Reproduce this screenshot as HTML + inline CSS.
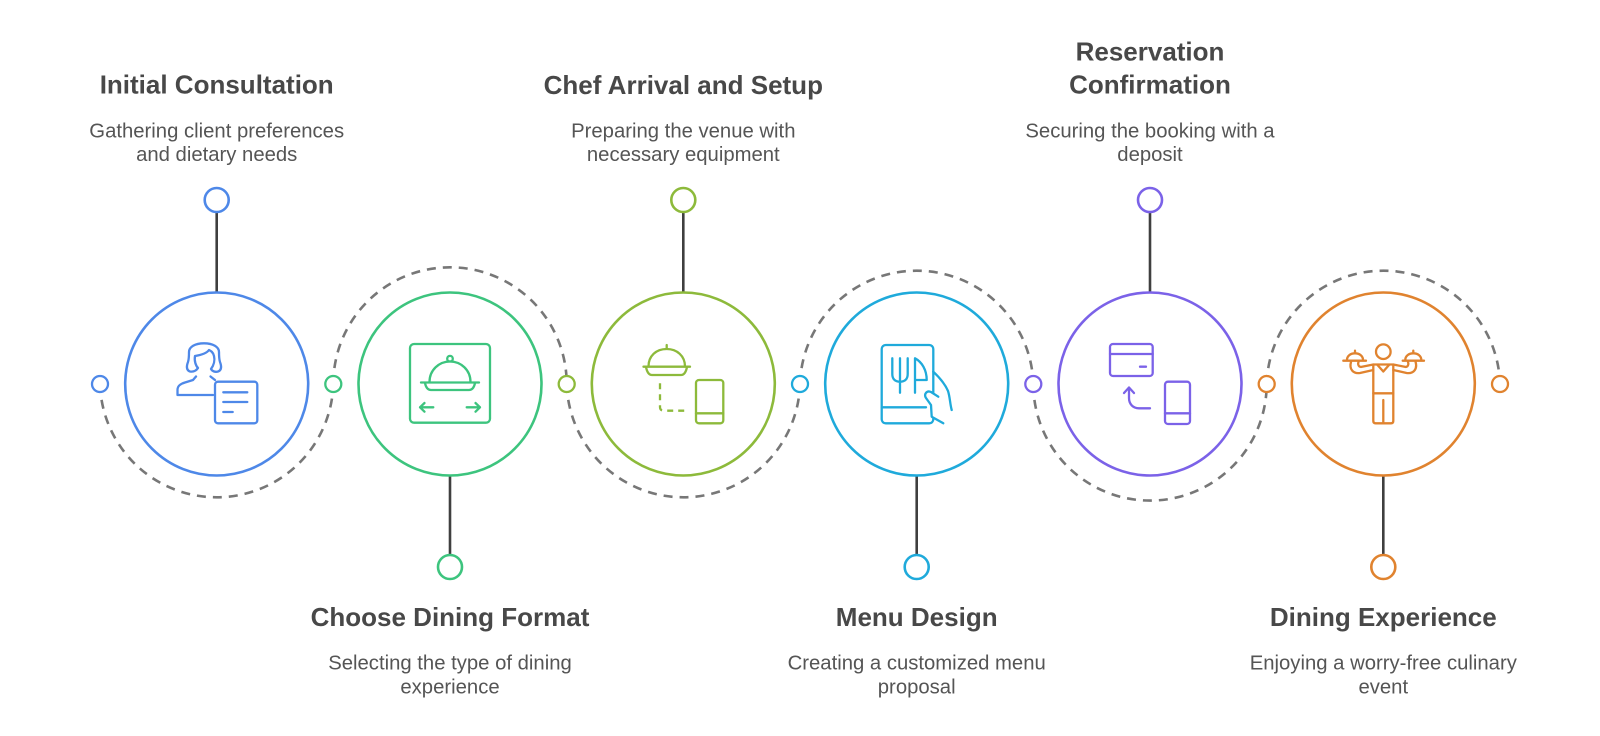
<!DOCTYPE html>
<html>
<head>
<meta charset="utf-8">
<style>
  html,body{margin:0;padding:0;background:#fff;}
  svg{display:block;}
  .t{font-family:"Liberation Sans",Arial,sans-serif;font-weight:bold;font-size:26px;fill:#484848;text-anchor:middle;}
  .d{font-family:"Liberation Sans",Arial,sans-serif;font-size:20.3px;fill:#555;text-anchor:middle;}
  .ic{fill:none;stroke-width:2.3;stroke-linecap:round;stroke-linejoin:round;}
  .dash{fill:none;stroke:#777;stroke-width:2.6;stroke-dasharray:9 7;}
  .conn{stroke:#3f3f3f;stroke-width:2.6;}
</style>
</head>
<body>
<svg width="1600" height="736" viewBox="0 0 1600 736" xmlns="http://www.w3.org/2000/svg">
  <!-- dashed arcs -->
  <path class="dash" d="M100,384 A116.7,116.7 0 0 0 333.3,384"/>
  <path class="dash" d="M333.3,384 A116.7,116.7 0 0 1 566.7,384"/>
  <path class="dash" d="M566.7,384 A116.7,116.7 0 0 0 800,384"/>
  <path class="dash" d="M800,384 A116.7,116.7 0 0 1 1033.3,384"/>
  <path class="dash" d="M1033.3,384 A116.7,116.7 0 0 0 1266.7,384"/>
  <path class="dash" d="M1266.7,384 A116.7,116.7 0 0 1 1500,384"/>

  <!-- connectors -->
  <line class="conn" x1="216.7" y1="212" x2="216.7" y2="292.5"/>
  <line class="conn" x1="450" y1="475.5" x2="450" y2="555"/>
  <line class="conn" x1="683.3" y1="212" x2="683.3" y2="292.5"/>
  <line class="conn" x1="916.7" y1="475.5" x2="916.7" y2="555"/>
  <line class="conn" x1="1150" y1="212" x2="1150" y2="292.5"/>
  <line class="conn" x1="1383.3" y1="475.5" x2="1383.3" y2="555"/>

  <!-- main circles -->
  <circle cx="216.7" cy="384" r="91.5" fill="#fff" stroke="#4E88E8" stroke-width="2.6"/>
  <circle cx="450" cy="384" r="91.5" fill="#fff" stroke="#3DC47E" stroke-width="2.6"/>
  <circle cx="683.3" cy="384" r="91.5" fill="#fff" stroke="#8DBA3B" stroke-width="2.6"/>
  <circle cx="916.7" cy="384" r="91.5" fill="#fff" stroke="#1FAADB" stroke-width="2.6"/>
  <circle cx="1150" cy="384" r="91.5" fill="#fff" stroke="#7B62E8" stroke-width="2.6"/>
  <circle cx="1383.3" cy="384" r="91.5" fill="#fff" stroke="#E0832F" stroke-width="2.6"/>

  <!-- side small circles -->
  <circle cx="100" cy="384" r="8" fill="#fff" stroke="#4E88E8" stroke-width="2.3"/>
  <circle cx="333.3" cy="384" r="8" fill="#fff" stroke="#3DC47E" stroke-width="2.3"/>
  <circle cx="566.7" cy="384" r="8" fill="#fff" stroke="#8DBA3B" stroke-width="2.3"/>
  <circle cx="800" cy="384" r="8" fill="#fff" stroke="#1FAADB" stroke-width="2.3"/>
  <circle cx="1033.3" cy="384" r="8" fill="#fff" stroke="#7B62E8" stroke-width="2.3"/>
  <circle cx="1266.7" cy="384" r="8" fill="#fff" stroke="#E0832F" stroke-width="2.3"/>
  <circle cx="1500" cy="384" r="8" fill="#fff" stroke="#E0832F" stroke-width="2.3"/>

  <!-- top/bottom small circles -->
  <circle cx="216.7" cy="200" r="12" fill="#fff" stroke="#4E88E8" stroke-width="2.6"/>
  <circle cx="450" cy="567" r="12" fill="#fff" stroke="#3DC47E" stroke-width="2.6"/>
  <circle cx="683.3" cy="200" r="12" fill="#fff" stroke="#8DBA3B" stroke-width="2.6"/>
  <circle cx="916.7" cy="567" r="12" fill="#fff" stroke="#1FAADB" stroke-width="2.6"/>
  <circle cx="1150" cy="200" r="12" fill="#fff" stroke="#7B62E8" stroke-width="2.6"/>
  <circle cx="1383.3" cy="567" r="12" fill="#fff" stroke="#E0832F" stroke-width="2.6"/>

  <!-- Icon 1: person with document -->
  <g class="ic" stroke="#4E88E8">
    <path d="M190,371.5 C186,370 186.5,366 188,362 C189,359 189,356 189,352 C189,347 195,343.3 204,343.3 C213,343.3 219,347 219,352 C219,356 219,359 220,362 C221.5,366 222,370 218,371.5 C215,372.5 212,371 211,369 C214,365 215,360 214,356 C213,352 211,351 209,350 C207,353 201,355 195,356 C194,361 196,366 198,368 C196,371 193,372 190,371.5 Z"/>
    <path d="M213,395 H177.5 V390 C177.5,386 180,384 185,382.5 L193,380 L196,376.5"/>
    <path d="M210.5,376.5 L215,380"/>
    <rect x="215" y="381.7" width="42.3" height="41.6" rx="3" fill="#fff"/>
    <path d="M223.3,392.3 H247.3 M223.3,402 H247.3 M223.3,412 H232.7"/>
  </g>

  <!-- Icon 2: cloche in frame with arrows -->
  <g class="ic" stroke="#3DC47E">
    <rect x="410" y="344" width="80" height="78.7" rx="4"/>
    <circle cx="450" cy="358.7" r="2.8"/>
    <path d="M429.5,382 C429.5,370 439,361.5 450,361.5 C461,361.5 470.5,370 470.5,382"/>
    <path d="M421,382.5 H479"/>
    <path d="M425,383 C426,388 428,390 431,390 H469 C472,390 474,388 475,383"/>
    <path d="M420,407.3 H433.3 M424.5,403 L420,407.3 L424.5,411.7"/>
    <path d="M466.7,407.3 H480 M475.5,403 L480,407.3 L475.5,411.7"/>
  </g>

  <!-- Icon 3: cloche, dashed path, phone -->
  <g class="ic" stroke="#8DBA3B">
    <path d="M666.7,345 V348.5"/>
    <path d="M648.5,366.5 C648.5,356 656,349 666.7,349 C677,349 685,356 685,366.5"/>
    <path d="M643.5,366.7 H690"/>
    <path d="M646,367 C647,372 649,375 652,375 H681 C684,375 686,372 687,367"/>
    <path d="M660,383.3 V407 Q660,410.7 664,410.7 H688.3" stroke-dasharray="6 5" stroke-linecap="butt"/>
    <rect x="696" y="380" width="27.3" height="43.3" rx="3"/>
    <path d="M696,413.3 H723.3"/>
  </g>

  <!-- Icon 4: menu held in hand -->
  <g class="ic" stroke="#1FAADB">
    <rect x="881.7" y="345" width="51.6" height="78.3" rx="4"/>
    <path d="M881.7,407.3 H926"/>
    <path d="M892.3,358.3 V374 C892.3,379 895,381.7 900,381.7 C905,381.7 907.7,379 907.7,374 V358.3 M900,358.3 V392.7"/>
    <path d="M915,392.7 V358.3 C922,362 926.7,370 926.7,380 H915"/>
    <path d="M933.3,371.7 C940,378 945,384 948,391 C950,397 950,404 951.7,410"/>
    <path d="M938.3,396.7 L931,392 C927,390 923.5,394 926,398 L931,405 L931.7,416.7 L943.3,423.3" fill="#fff"/>
  </g>

  <!-- Icon 5: card, arrow, phone -->
  <g class="ic" stroke="#7B62E8">
    <rect x="1110" y="344" width="42.7" height="32" rx="3"/>
    <path d="M1110,354 H1152.7 M1140,366.7 H1146"/>
    <path d="M1129,388 V398 C1129,404 1133,408.3 1139,408.3 H1150"/>
    <path d="M1124,393 L1129,387.5 L1134,393"/>
    <rect x="1165" y="381.7" width="25" height="42.3" rx="3"/>
    <path d="M1165,413.3 H1190"/>
  </g>

  <!-- Icon 6: waiter with trays -->
  <g class="ic" stroke="#E0832F">
    <circle cx="1383.3" cy="351.7" r="7.3"/>
    <path d="M1355,350.7 V353.3 M1347,360 C1347,356 1350.5,353.3 1355,353.3 C1359.5,353.3 1363,356 1363,360 M1343.3,360.7 H1366"/>
    <path d="M1413.3,350.7 V353.3 M1405.3,360 C1405.3,356 1408.8,353.3 1413.3,353.3 C1417.8,353.3 1421.3,356 1421.3,360 M1402.7,360.7 H1424"/>
    <path d="M1351,362 C1349,369 1353,374 1360,373 L1373.3,370"/>
    <path d="M1358.5,362 C1357.5,365 1359,367.5 1362,366.8 L1373.3,364.5 H1393.3 L1404.6,366.8 C1407.6,367.5 1409,365 1408,362"/>
    <path d="M1415.6,362 C1417.6,369 1413.6,374 1406.6,373 L1393.3,370"/>
    <path d="M1373.3,364.5 V393.3 H1393.3 V364.5"/>
    <path d="M1377.5,365 L1383.3,371.5 L1389,365"/>
    <path d="M1373.3,393.3 V421 Q1373.3,423.3 1375.6,423.3 H1391 Q1393.3,423.3 1393.3,421 V393.3"/>
    <path d="M1383.3,400 V423.3"/>
  </g>

  <!-- Texts -->
  <text class="t" x="216.7" y="93.5">Initial Consultation</text>
  <text class="d" x="216.7" y="137.5">Gathering client preferences</text>
  <text class="d" x="216.7" y="161">and dietary needs</text>

  <text class="t" x="450" y="626">Choose Dining Format</text>
  <text class="d" x="450" y="669.5">Selecting the type of dining</text>
  <text class="d" x="450" y="693.5">experience</text>

  <text class="t" x="683.3" y="94">Chef Arrival and Setup</text>
  <text class="d" x="683.3" y="137.5">Preparing the venue with</text>
  <text class="d" x="683.3" y="161">necessary equipment</text>

  <text class="t" x="916.7" y="626">Menu Design</text>
  <text class="d" x="916.7" y="669.5">Creating a customized menu</text>
  <text class="d" x="916.7" y="693.5">proposal</text>

  <text class="t" x="1150" y="60.7">Reservation</text>
  <text class="t" x="1150" y="93.3">Confirmation</text>
  <text class="d" x="1150" y="137.5">Securing the booking with a</text>
  <text class="d" x="1150" y="161">deposit</text>

  <text class="t" x="1383.3" y="626">Dining Experience</text>
  <text class="d" x="1383.3" y="669.5">Enjoying a worry-free culinary</text>
  <text class="d" x="1383.3" y="693.5">event</text>
</svg>
</body>
</html>
